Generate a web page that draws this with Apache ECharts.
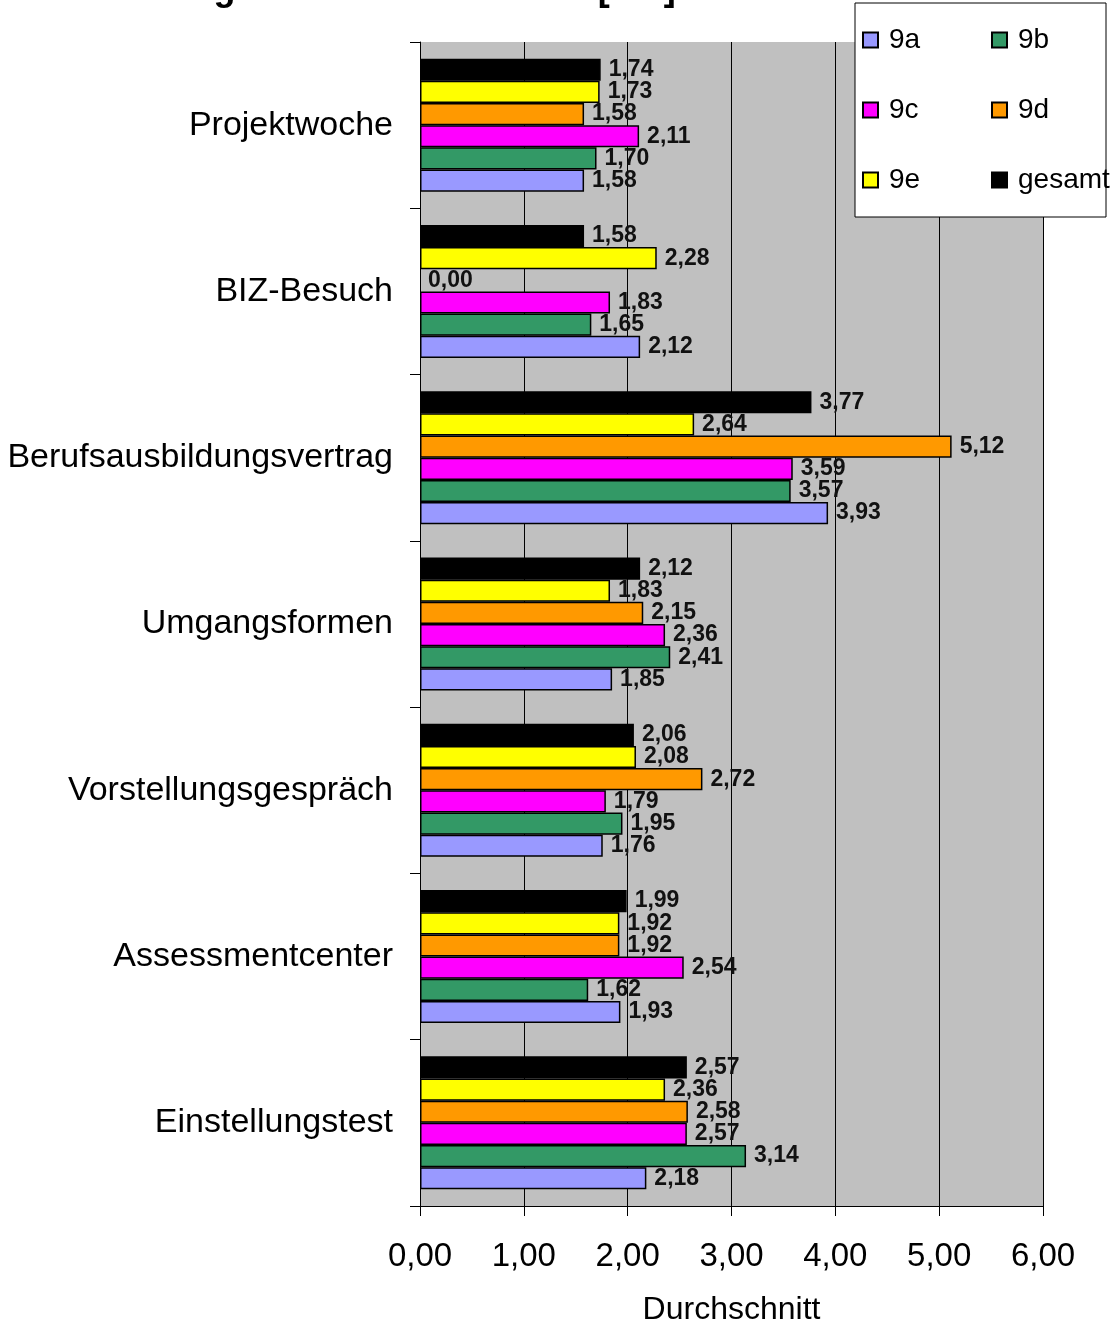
<!DOCTYPE html>
<html>
<head>
<meta charset="utf-8">
<script src="https://cdn.jsdelivr.net/npm/echarts@6/dist/echarts.min.js"></script>
<style>
  html, body { margin: 0; padding: 0; background: #fff; }
  #chart { width: 1116px; height: 1331px; }
</style>
</head>
<body>
<div id="chart"></div>
<script>
// categories listed top to bottom as in the picture
const categories = ['Projektwoche', 'BIZ-Besuch', 'Berufsausbildungsvertrag', 'Umgangsformen',
  'Vorstellungsgespräch', 'Assessmentcenter', 'Einstellungstest']
const seriesNames = ['9a', '9b', '9c', '9d', '9e', 'gesamt']
const val9a = [1.58, 2.12, 3.93, 1.85, 1.76, 1.93, 2.18]
const val9b = [1.70, 1.65, 3.57, 2.41, 1.95, 1.62, 3.14]
const val9c = [2.11, 1.83, 3.59, 2.36, 1.79, 2.54, 2.57]
const val9d = [1.58, 0.00, 5.12, 2.15, 2.72, 1.92, 2.58]
const val9e = [1.73, 2.28, 2.64, 1.83, 2.08, 1.92, 2.36]
const valGesamt = [1.74, 1.58, 3.77, 2.12, 2.06, 1.99, 2.57]
const xTicks = [0, 1, 2, 3, 4, 5, 6]
const colors = ['#9999ff', '#339966', '#ff00ff', '#ff9900', '#ffff00', '#000000']

const fmt = v => Number(v).toFixed(2).replace('.', ',')

let chart = echarts.init(document.getElementById('chart'))
let allValues = [val9a, val9b, val9c, val9d, val9e, valGesamt]

// category axis runs bottom-up, so reverse the lists;
// series pushed last-first so 9a ends up at the bottom of each group
let series = []
for (let i = seriesNames.length - 1; i >= 0; i--) {
  series.push({
    name: seriesNames[i],
    type: 'bar',
    barGap: '0%',
    barCategoryGap: '20%',
    data: allValues[i].slice().reverse().map(v => v === 0
      ? { value: v, itemStyle: { borderWidth: 0 } }
      : v),
    itemStyle: { color: colors[i], borderColor: '#000', borderWidth: 1.5 },
    label: {
      show: true,
      position: 'right',
      distance: 8,
      formatter: p => fmt(p.value),
      color: '#111',
      fontFamily: 'Liberation Sans',
      fontWeight: 'bold',
      fontSize: 23
    }
  })
}

let option = {
  animation: false,
  textStyle: { fontFamily: 'Liberation Sans' },
  grid: {
    left: 420,
    right: 73,
    top: 42,
    bottom: 123,
    show: true,
    backgroundColor: '#c0c0c0',
    borderWidth: 0
  },
  graphic: [
    {
      type: 'text',
      x: 803,
      y: 8,
      style: {
        text: 'Bewertung der Maßnahmen der [BO] Woche',
        fontFamily: 'Liberation Sans',
        fontWeight: 'bold',
        fontSize: 36,
        fill: '#000',
        textAlign: 'right',
        textVerticalAlign: 'bottom'
      }
    },
    {
      type: 'rect',
      z: 3,
      shape: { x: 855, y: 3, width: 251, height: 214 },
      style: { fill: '#fff', stroke: '#000', lineWidth: 1 }
    }
  ],
  legend: {
    data: seriesNames,
    left: 857,
    top: 20,
    width: 300,
    padding: 5,
    icon: 'rect',
    itemWidth: 15,
    itemHeight: 15,
    itemGap: 40,
    z: 5,
    textStyle: {
      fontFamily: 'Liberation Sans',
      fontSize: 28,
      color: '#000',
      lineHeight: 30,
      width: 62,
      padding: [0, 0, 0, 6]
    }
  },
  xAxis: {
    type: 'value',
    min: xTicks[0],
    max: xTicks[xTicks.length - 1],
    interval: 1,
    name: 'Durchschnitt',
    nameLocation: 'middle',
    nameGap: 88,
    nameTextStyle: { fontFamily: 'Liberation Sans', fontSize: 32, color: '#000' },
    axisLine: { show: true, lineStyle: { color: '#000', width: 1 } },
    axisTick: { show: true, length: 10, lineStyle: { color: '#000' } },
    axisLabel: {
      margin: 34,
      fontFamily: 'Liberation Sans',
      fontSize: 33,
      color: '#000',
      formatter: v => fmt(v)
    },
    splitLine: { show: true, lineStyle: { color: '#000', width: 1 } }
  },
  yAxis: {
    type: 'category',
    data: categories.slice().reverse(),
    axisLine: { show: true, lineStyle: { color: '#000', width: 1 } },
    axisTick: { show: true, length: 10, lineStyle: { color: '#000' } },
    axisLabel: {
      margin: 27,
      fontFamily: 'Liberation Sans',
      fontSize: 34,
      color: '#000'
    }
  },
  series: series
}

chart.setOption(option)
</script>
</body>
</html>
